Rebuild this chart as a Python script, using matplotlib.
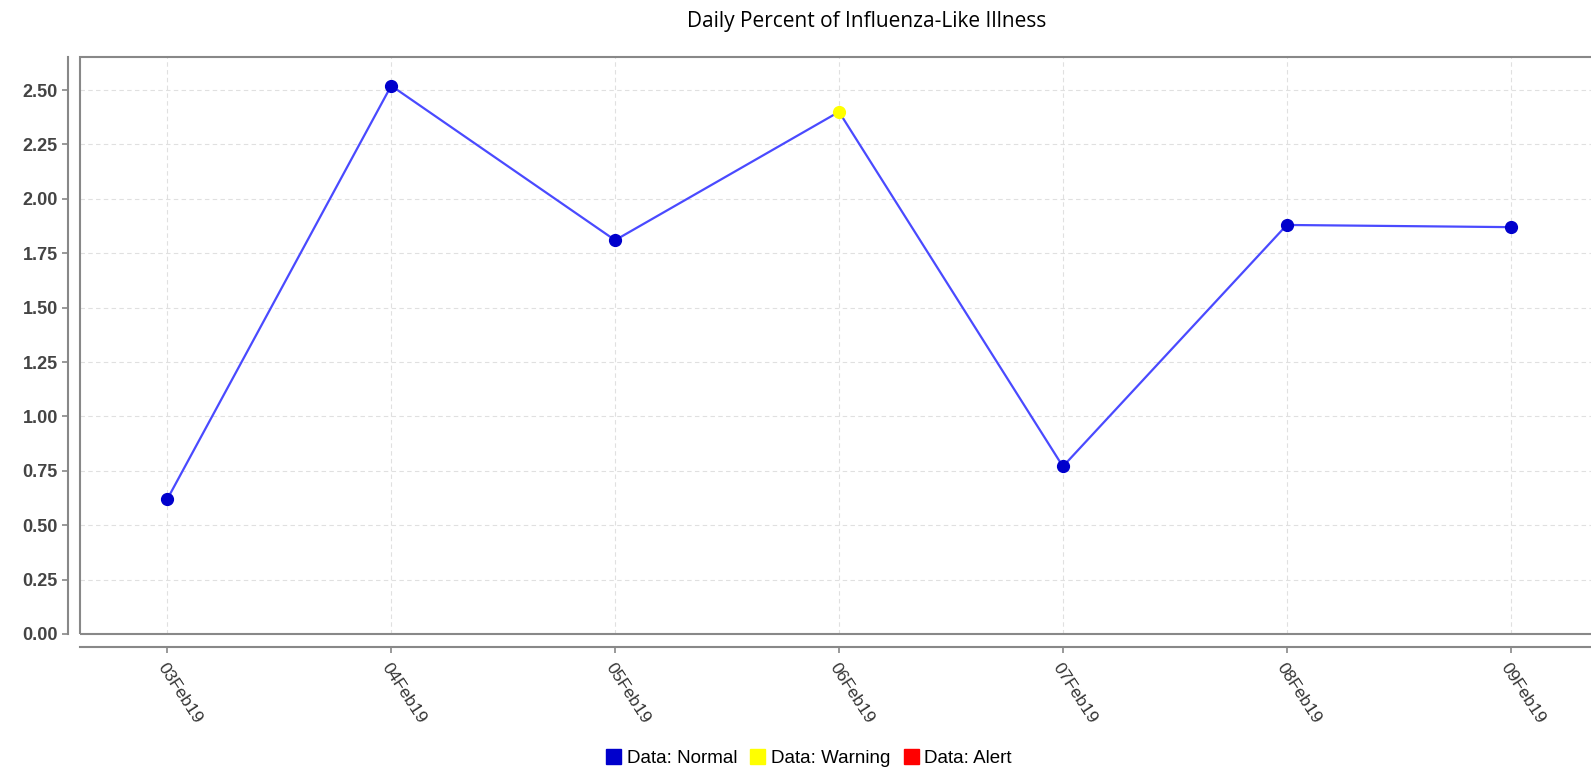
import matplotlib.pyplot as plt
from matplotlib.patches import Patch, Rectangle

dates = ['03Feb19', '04Feb19', '05Feb19', '06Feb19', '07Feb19', '08Feb19', '09Feb19']
pct_ili = [0.62, 2.52, 1.81, 2.40, 0.77, 1.88, 1.87]
status = ['Normal', 'Normal', 'Normal', 'Warning', 'Normal', 'Normal', 'Normal']
yticks = [0.00, 0.25, 0.50, 0.75, 1.00, 1.25, 1.50, 1.75, 2.00, 2.25, 2.50]

colors = {'Normal': '#0000cc', 'Warning': '#ffff00', 'Alert': '#ff0000'}

fig = plt.figure(figsize=(15.91, 7.71), dpi=100)
ax = fig.add_axes([80 / 1591, 137 / 771, 1518 / 1591, 577 / 771])

# offset axis lines (do this first, it resets the ticks)
for side in ['top', 'right']:
    ax.spines[side].set_visible(False)
for side in ['left', 'bottom']:
    ax.spines[side].set_position(('outward', 9))
    ax.spines[side].set_color('#888888')
    ax.spines[side].set_linewidth(1.5)

x = list(range(len(dates)))
ax.plot(x, pct_ili, color='#4a4aff', lw=1.6, zorder=3)
for s in ['Normal', 'Warning']:
    xs = [i for i in x if status[i] == s]
    ys = [pct_ili[i] for i in x if status[i] == s]
    ax.plot(xs, ys, 'o', color=colors[s], ms=8.5, mec=colors[s], zorder=4)

ax.set_xlim(-0.39, 6.39)
ax.set_ylim(0, 2.652)
ax.tick_params(axis='both', length=4, width=1.2, color='#888888')
ax.tick_params(axis='x', pad=6)
ax.tick_params(axis='y', pad=3)
ax.set_xticks(x)
ax.set_xticklabels(dates, rotation=-57, ha='left', va='top',
                   rotation_mode='anchor', fontsize=12.5, color='#333333',
                   family='Liberation Sans')
ax.set_yticks(yticks)
ax.set_yticklabels(['%.2f' % v for v in yticks], fontsize=13, fontweight='bold',
                   color='#444444', family='Liberation Sans')
ax.grid(True, color='#e0e0e0', ls=(0, (4, 3)), lw=0.8)
ax.set_axisbelow(True)

ax.add_patch(Rectangle((0, 0), 1, 1, transform=ax.transAxes, fill=False,
                       ec='#888888', lw=1.5, clip_on=False, zorder=5))

fig.text(867 / 1591, 1 - 21 / 771, 'Daily Percent of Influenza-Like Illness',
         ha='center', va='center', fontsize=15, family='Open Sans')

handles = [Patch(color=colors[k], label='Data: ' + k) for k in ['Normal', 'Warning', 'Alert']]
fig.legend(handles=handles, loc='center', bbox_to_anchor=(809 / 1591, 1 - 758 / 771),
           ncol=3, frameon=False, handlelength=0.8, handleheight=0.8,
           handletextpad=0.3, columnspacing=0.7,
           prop={'family': 'Liberation Sans', 'size': 13.5})

fig.savefig('out.png', dpi=100)
